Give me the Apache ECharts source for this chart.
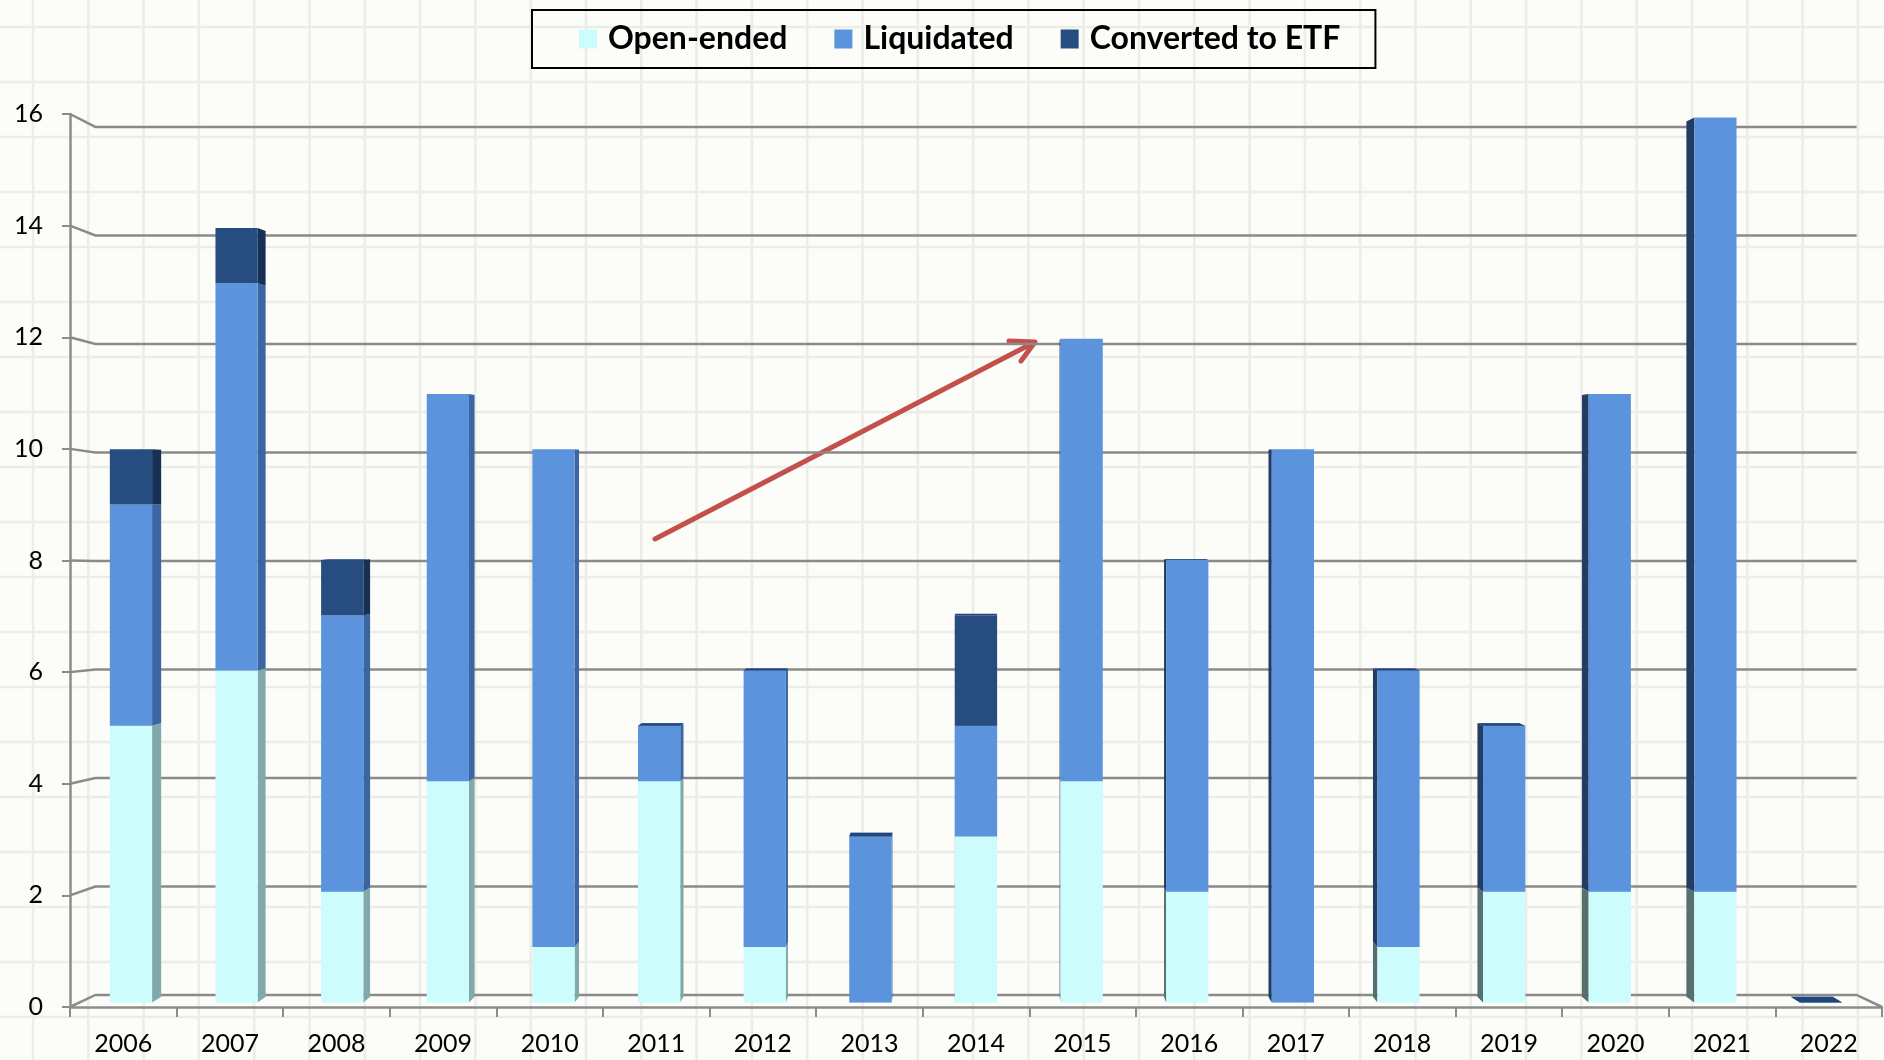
<!DOCTYPE html>
<html>
<head>
<meta charset="utf-8">
<title>Funds by year</title>
<script src="https://cdn.jsdelivr.net/npm/echarts@6.0.0/dist/echarts.min.js"></script>
<style>
  html, body { margin: 0; padding: 0; background: #fcfcf9; }
  #chart { width: 1884px; height: 1060px; }
</style>
</head>
<body>
<div id="chart"></div>
<script>
// data
var years = ['2006', '2007', '2008', '2009', '2010', '2011', '2012', '2013', '2014',
             '2015', '2016', '2017', '2018', '2019', '2020', '2021', '2022'];
var openEnded      = [5, 6, 2, 4, 1, 4, 1, 0, 3, 4, 2, 0, 1, 2, 2, 2, 0];
var liquidated     = [4, 7, 5, 7, 9, 1, 5, 3, 2, 8, 6, 10, 5, 3, 9, 14, 0];
var convertedToETF = [1, 1, 1, 0, 0, 0, 0, 0, 2, 0, 0, 0, 0, 0, 0, 0, 0];
var yTicks = [0, 2, 4, 6, 8, 10, 12, 14, 16];

// fake 3d look
var BAR_HALF = 0.2;        // half bar width as part of a category
var VP_BAR = [8, 9.2];     // vanishing point for the bars (data units)
var VP_WALL = [8, 7.7];    // vanishing point for the back wall
var PLANE_S = 0.991;
var DEPTH = 0.011;
var WALL_S = 0.972;

var faces = [
  { front: '#ccfcfc', sideR: '#80a9a9', sideL: '#566f6f', top: '#b5e6e6' },
  { front: '#5b94dc', sideR: '#3b66a3', sideL: '#223c62', top: '#4478bd' },
  { front: '#264c80', sideR: '#173054', sideL: '#122640', top: '#22467c' }
];

function stackData(vals, below) {
  return vals.map(function (v, i) {
    var base = 0;
    below.forEach(function (arr) { base += arr[i]; });
    return [i, base, base + v];
  });
}

function barRender(f) {
  return function (params, api) {
    var i = api.value(0), lo = api.value(1), hi = api.value(2);
    var cw = api.size([1, 0])[0];
    var half = cw * BAR_HALF;
    var vp = api.coord(VP_BAR);
    var c0 = api.coord([i, lo]), c1 = api.coord([i, hi]);
    function plane(x, y) {
      return [vp[0] + (x - vp[0]) * PLANE_S, vp[1] + (y - vp[1]) * PLANE_S];
    }
    function back(p) {
      return [p[0] + (vp[0] - p[0]) * DEPTH, p[1] + (vp[1] - p[1]) * DEPTH];
    }
    var lb = plane(c0[0] - half, c0[1]), rb = plane(c0[0] + half, c0[1]);
    var lt = plane(c0[0] - half, c1[1]), rt = plane(c0[0] + half, c1[1]);
    var onLeft = (lb[0] + rb[0]) / 2 < vp[0];
    var side = onLeft ? [rt, back(rt), back(rb), rb] : [lt, back(lt), back(lb), lb];
    var kids = [];
    if (hi > lo) {
      kids.push({ type: 'polygon', shape: { points: side }, style: { fill: onLeft ? f.sideR : f.sideL } });
    }
    // top face only shows when it lies below the eye
    if (lt[1] > vp[1]) {
      kids.push({ type: 'polygon', shape: { points: [lt, rt, back(rt), back(lt)] }, style: { fill: f.top } });
    }
    if (hi > lo) {
      kids.push({ type: 'polygon', shape: { points: [lb, rb, rt, lt] }, style: { fill: f.front } });
    }
    return { type: 'group', children: kids };
  };
}

function wallRender(params, api) {
  var v = api.value(1);
  var cw = api.size([1, 0])[0];
  var fl = api.coord([0, v]); fl[0] -= cw / 2;
  var fr = api.coord([years.length - 1, v]); fr[0] += cw / 2;
  var vp = api.coord(VP_WALL);
  function back(p) {
    return [vp[0] + (p[0] - vp[0]) * WALL_S, vp[1] + (p[1] - vp[1]) * WALL_S];
  }
  var pts = v === 0 ? [fl, back(fl), back(fr), fr] : [fl, back(fl), back(fr)];
  return { type: 'polyline', shape: { points: pts }, style: { stroke: '#8a8a8a', lineWidth: 2.5, fill: null } };
}

// faint paper grid behind the chart
var bgLines = [];
for (var gx = 33; gx < 1884; gx += 55.3) {
  bgLines.push({ type: 'line', z: -10, silent: true, shape: { x1: gx, y1: 0, x2: gx, y2: 1060 }, style: { stroke: '#ecece8', lineWidth: 2.5 } });
}
for (var gy = 27; gy < 1060; gy += 55) {
  bgLines.push({ type: 'line', z: -10, silent: true, shape: { x1: 0, y1: gy, x2: 1884, y2: gy }, style: { stroke: '#ecece8', lineWidth: 2.5 } });
}

var arrow = {
  type: 'group', z: 100, silent: true,
  children: [
    { type: 'line', shape: { x1: 655, y1: 539, x2: 1033, y2: 343 }, style: { stroke: '#c4504b', lineWidth: 5, lineCap: 'round' } },
    { type: 'polyline', shape: { points: [[1009, 341], [1035, 342], [1021, 361]] }, style: { stroke: '#c4504b', lineWidth: 5, lineCap: 'round', lineJoin: 'round', fill: null } }
  ]
};

var chart = echarts.init(document.getElementById('chart'));
var axisGrey = '#8c8c8c';
var option = {
  backgroundColor: '#fcfcf9',
  animation: false,
  textStyle: { fontFamily: 'Lato' },
  graphic: bgLines.concat([arrow]),
  legend: {
    left: 532, top: 10,
    icon: 'rect',
    itemWidth: 18, itemHeight: 19,
    itemGap: 47,
    padding: [13, 35, 13, 47],
    borderColor: '#000', borderWidth: 2,
    data: ['Open-ended', 'Liquidated', 'Converted to ETF'],
    textStyle: { fontFamily: 'Lato', fontWeight: 'bold', fontSize: 32, color: '#000', padding: [0, 0, 0, 6] }
  },
  grid: { left: 70, right: 2, top: 114, bottom: 53 },
  xAxis: {
    type: 'category',
    data: years,
    axisLine: { lineStyle: { color: axisGrey, width: 2.5 } },
    axisTick: { show: true, length: 10, lineStyle: { color: axisGrey, width: 2 } },
    axisLabel: { color: '#000', fontFamily: 'Lato', fontSize: 25, margin: 24 },
    splitLine: { show: false }
  },
  yAxis: {
    type: 'value',
    min: 0, max: 16, interval: 2,
    axisLine: { show: true, lineStyle: { color: axisGrey, width: 2.5 } },
    axisTick: { show: true, length: 8, lineStyle: { color: axisGrey, width: 2 } },
    axisLabel: { color: '#000', fontFamily: 'Lato', fontSize: 25, margin: 27 },
    splitLine: { show: false }
  },
  series: [
    {
      name: 'wall', type: 'custom', z: 1, silent: true,
      renderItem: wallRender,
      encode: { x: 0, y: 1 },
      data: yTicks.map(function (v) { return [0, v]; })
    },
    {
      name: 'Open-ended', type: 'custom', z: 2,
      itemStyle: { color: faces[0].front },
      renderItem: barRender(faces[0]),
      encode: { x: 0, y: [1, 2] },
      data: stackData(openEnded, [])
    },
    {
      name: 'Liquidated', type: 'custom', z: 3,
      itemStyle: { color: faces[1].front },
      renderItem: barRender(faces[1]),
      encode: { x: 0, y: [1, 2] },
      data: stackData(liquidated, [openEnded])
    },
    {
      name: 'Converted to ETF', type: 'custom', z: 4,
      itemStyle: { color: faces[2].front },
      renderItem: barRender(faces[2]),
      encode: { x: 0, y: [1, 2] },
      data: stackData(convertedToETF, [openEnded, liquidated])
    }
  ]
};
chart.setOption(option);
</script>
</body>
</html>
